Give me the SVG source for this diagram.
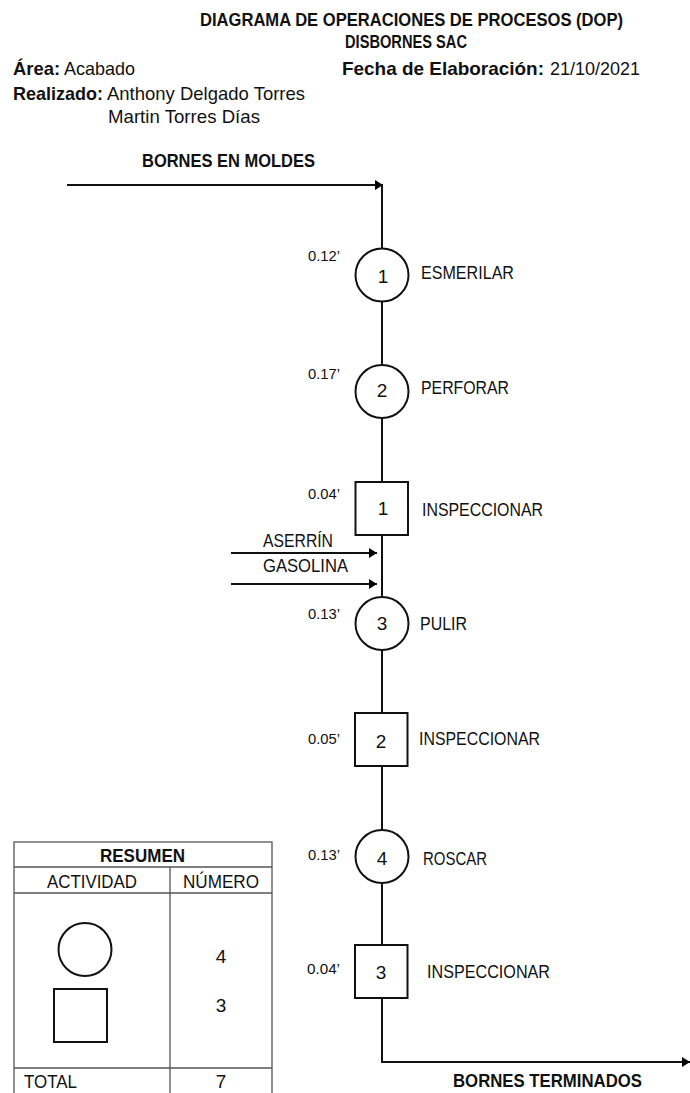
<svg xmlns="http://www.w3.org/2000/svg" width="690" height="1093" viewBox="0 0 690 1093">
<defs>
<marker id="arr" viewBox="0 0 8 10" refX="8" refY="5" markerUnits="userSpaceOnUse" markerWidth="8" markerHeight="10" orient="auto">
<path d="M0,0 L8,5 L0,10 Z" fill="#000"/>
</marker>
<style>
text{font-family:"Liberation Sans",Arial,sans-serif;fill:#111;}
.t{font-size:19px;}
.b{font-weight:bold;}
.s{font-size:14.5px;}
.n{font-size:19px;text-anchor:middle;}
.shape{fill:#fff;stroke:#111;stroke-width:2;}
.ln{fill:none;stroke:#111;stroke-width:2;}
.tb{fill:none;stroke:#555;stroke-width:1.3;}
</style>
</defs>
<rect width="690" height="1093" fill="#fff"/>

<g id="header">
<text class="t b" x="200" y="26" textLength="423" lengthAdjust="spacingAndGlyphs">DIAGRAMA DE OPERACIONES DE PROCESOS (DOP)</text>
<text class="t b" x="345" y="48" textLength="122" lengthAdjust="spacingAndGlyphs">DISBORNES SAC</text>
<text class="t b" x="13" y="75" textLength="47" lengthAdjust="spacingAndGlyphs">Área:</text>
<text class="t" x="64" y="75" textLength="71" lengthAdjust="spacingAndGlyphs">Acabado</text>
<text class="t b" x="342" y="75" textLength="202" lengthAdjust="spacingAndGlyphs">Fecha de Elaboración:</text>
<text class="t" x="550" y="75" textLength="90" lengthAdjust="spacingAndGlyphs">21/10/2021</text>
<text class="t b" x="13" y="100" textLength="90" lengthAdjust="spacingAndGlyphs">Realizado:</text>
<text class="t" x="107" y="100" textLength="198" lengthAdjust="spacingAndGlyphs">Anthony Delgado Torres</text>
<text class="t" x="108" y="123" textLength="152" lengthAdjust="spacingAndGlyphs">Martin Torres Días</text>
<text class="t b" x="142" y="167" textLength="173" lengthAdjust="spacingAndGlyphs">BORNES EN MOLDES</text>
</g>

<g id="connectors">
<line class="ln" x1="67" y1="185" x2="383" y2="185" marker-end="url(#arr)"/>
<line class="ln" x1="382" y1="184" x2="382" y2="249"/>
<line class="ln" x1="382" y1="301" x2="382" y2="365"/>
<line class="ln" x1="382" y1="418" x2="382" y2="482"/>
<line class="ln" x1="382" y1="535" x2="382" y2="597"/>
<line class="ln" x1="382" y1="650" x2="382" y2="713"/>
<line class="ln" x1="382" y1="766" x2="382" y2="830"/>
<line class="ln" x1="382" y1="883" x2="382" y2="945"/>
<path class="ln" d="M382,998 L382,1062 L690,1062" marker-end="url(#arr)"/>
<line class="ln" x1="231" y1="553" x2="377" y2="553" marker-end="url(#arr)"/>
<line class="ln" x1="231" y1="584" x2="377" y2="584" marker-end="url(#arr)"/>
<text class="t" x="263" y="547" textLength="70" lengthAdjust="spacingAndGlyphs">ASERRÍN</text>
<text class="t" x="263" y="572" textLength="85" lengthAdjust="spacingAndGlyphs">GASOLINA</text>
<text class="t b" x="453" y="1087" textLength="189" lengthAdjust="spacingAndGlyphs">BORNES TERMINADOS</text>
</g>

<g id="op1">
<circle class="shape" cx="382" cy="275" r="26.5"/>
<text class="n" x="383" y="283">1</text>
<text class="s" x="308" y="261" textLength="32" lengthAdjust="spacingAndGlyphs">0.12’</text>
<text class="t" x="421" y="279" textLength="93" lengthAdjust="spacingAndGlyphs">ESMERILAR</text>
</g>

<g id="op2">
<circle class="shape" cx="382" cy="391.5" r="26.5"/>
<text class="n" x="382" y="397">2</text>
<text class="s" x="308" y="379" textLength="32" lengthAdjust="spacingAndGlyphs">0.17’</text>
<text class="t" x="421" y="394" textLength="88" lengthAdjust="spacingAndGlyphs">PERFORAR</text>
</g>

<g id="insp1">
<rect class="shape" x="355.5" y="482" width="52.5" height="53"/>
<text class="n" x="383" y="515">1</text>
<text class="s" x="308" y="499" textLength="32" lengthAdjust="spacingAndGlyphs">0.04’</text>
<text class="t" x="422" y="516" textLength="121" lengthAdjust="spacingAndGlyphs">INSPECCIONAR</text>
</g>

<g id="op3">
<circle class="shape" cx="382" cy="623.5" r="26.5"/>
<text class="n" x="382" y="630">3</text>
<text class="s" x="308" y="619" textLength="32" lengthAdjust="spacingAndGlyphs">0.13’</text>
<text class="t" x="420" y="630" textLength="47" lengthAdjust="spacingAndGlyphs">PULIR</text>
</g>

<g id="insp2">
<rect class="shape" x="355" y="713" width="52.5" height="53"/>
<text class="n" x="381" y="748">2</text>
<text class="s" x="308" y="744" textLength="32" lengthAdjust="spacingAndGlyphs">0.05’</text>
<text class="t" x="419" y="745" textLength="121" lengthAdjust="spacingAndGlyphs">INSPECCIONAR</text>
</g>

<g id="op4">
<circle class="shape" cx="382" cy="856.5" r="26.5"/>
<text class="n" x="382" y="865">4</text>
<text class="s" x="308" y="860" textLength="32" lengthAdjust="spacingAndGlyphs">0.13’</text>
<text class="t" x="423" y="865" textLength="64" lengthAdjust="spacingAndGlyphs">ROSCAR</text>
</g>

<g id="insp3">
<rect class="shape" x="355" y="945" width="52.5" height="53"/>
<text class="n" x="381" y="979">3</text>
<text class="s" x="307" y="974" textLength="33" lengthAdjust="spacingAndGlyphs">0.04’</text>
<text class="t" x="427" y="978" textLength="123" lengthAdjust="spacingAndGlyphs">INSPECCIONAR</text>
</g>

<g id="resumen">
<rect class="tb" x="14" y="842" width="258" height="260"/>
<line class="tb" x1="14" y1="867" x2="272" y2="867"/>
<line class="tb" x1="14" y1="893" x2="272" y2="893"/>
<line class="tb" x1="14" y1="1068" x2="272" y2="1068"/>
<line class="tb" x1="170" y1="867" x2="170" y2="1093"/>
<text class="t b" x="100" y="862" textLength="85" lengthAdjust="spacingAndGlyphs">RESUMEN</text>
<text class="t" x="47" y="888" textLength="90" lengthAdjust="spacingAndGlyphs">ACTIVIDAD</text>
<text class="t" x="183" y="888" textLength="76" lengthAdjust="spacingAndGlyphs">NÚMERO</text>
<circle class="shape" cx="85" cy="949.5" r="26.5"/>
<rect class="shape" x="54" y="989" width="53" height="53"/>
<text class="n" x="221" y="963">4</text>
<text class="n" x="221" y="1012">3</text>
<text class="t" x="24" y="1088" textLength="53" lengthAdjust="spacingAndGlyphs">TOTAL</text>
<text class="n" x="221" y="1088">7</text>
</g>
</svg>
